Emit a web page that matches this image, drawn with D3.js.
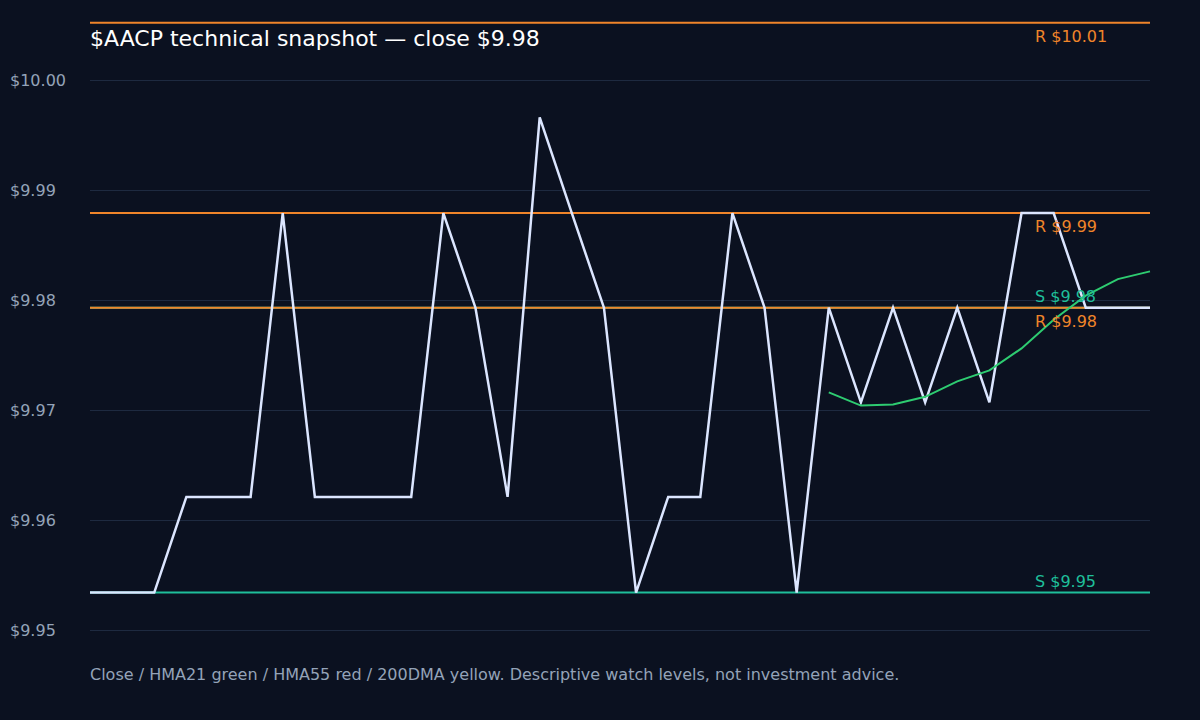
<!DOCTYPE html>
<html>
<head>
<meta charset="utf-8">
<script src="https://cdn.jsdelivr.net/npm/d3@7"></script>
<style>
  html, body { margin: 0; padding: 0; background: #0b1120; }
  svg { display: block; font-family: "DejaVu Sans", sans-serif; }
</style>
</head>
<body>
<svg id="chart"></svg>
<script>
// close prices, one per session
var closes = [
    9.9534, 9.9534, 9.9534, 9.9621, 9.9621, 9.9621, 9.9879, 9.9621, 9.9621, 9.9621,
    9.9621, 9.9879, 9.9793, 9.9621, 9.9966, 9.9879, 9.9793, 9.9534, 9.9621, 9.9621,
    9.9879, 9.9793, 9.9534, 9.9793, 9.9707, 9.9793, 9.9707, 9.9793, 9.9707, 9.9879,
    9.9879, 9.9793, 9.9793, 9.9793
];
// HMA21, null where not enough history
var hma21 = [
    null, null, null, null, null, null, null, null, null, null,
    null, null, null, null, null, null, null, null, null, null,
    null, null, null, 9.9716, 9.9704, 9.9705, 9.9712, 9.9726, 9.9736, 9.9756,
    9.9782, 9.9804, 9.9819, 9.9826
];
var yTicks = [9.95, 9.96, 9.97, 9.98, 9.99, 10.00];
// watch levels
var resistances = [10.0052, 9.9879, 9.9793];
var supports = [9.9534, 9.9793];

var w = 1200;
var h = 720;
var mLeft = 90, mRight = 1150, mTop = 80, mBottom = 630;

var svg = d3.select("#chart")
            .attr("width", w)
            .attr("height", h);

svg.append("rect")
    .attr("width", w)
    .attr("height", h)
    .attr("fill", "#0b1120");

var xScale = d3.scaleLinear()
                .domain([0, closes.length - 1])
                .range([mLeft, mRight]);

var yScale = d3.scaleLinear()
                .domain([9.95, 10.00])
                .range([mBottom, mTop]);

//grid lines + tick labels
var yAxis = d3.axisLeft(yScale)
                .tickValues(yTicks)
                .tickSize(-(mRight - mLeft))
                .tickFormat(function(d) { return "$" + d.toFixed(2); });

var axisG = svg.append("g")
    .attr("transform", "translate(" + mLeft + ",0)")
    .call(yAxis);
axisG.select(".domain").remove();
axisG.selectAll(".tick line")
    .attr("stroke", "#1e2a40")
    .attr("stroke-width", 1);
axisG.selectAll(".tick text")
    .attr("x", 10 - mLeft)
    .attr("text-anchor", "start")
    .attr("fill", "#94a3b8")
    .style("font-size", "16px")
    .style("font-family", "DejaVu Sans, sans-serif");

//support lines under everything else
svg.selectAll("line.sup")
    .data(supports)
    .enter()
    .append("line")
    .attr("class", "sup")
    .attr("x1", mLeft)
    .attr("x2", mRight)
    .attr("y1", function(d) { return yScale(d); })
    .attr("y2", function(d) { return yScale(d); })
    .attr("stroke", "#1fbf9a")
    .attr("stroke-width", 2);

svg.selectAll("line.res")
    .data(resistances)
    .enter()
    .append("line")
    .attr("class", "res")
    .attr("x1", mLeft)
    .attr("x2", mRight)
    .attr("y1", function(d) { return yScale(d); })
    .attr("y2", function(d) { return yScale(d); })
    .attr("stroke", "#f0852a")
    .attr("stroke-width", 2);

var line = d3.line()
    .defined(function(d) { return d != null; })
    .x(function(d, i) { return xScale(i); })
    .y(function(d) { return yScale(d); });

svg.append("path")
    .datum(closes)
    .attr("d", line)
    .attr("fill", "none")
    .attr("stroke", "#dce6ff")
    .attr("stroke-width", 2.5)
    .attr("stroke-linejoin", "miter");

svg.append("path")
    .datum(hma21)
    .attr("d", line)
    .attr("fill", "none")
    .attr("stroke", "#2ecc71")
    .attr("stroke-width", 2);

//level labels: supports above the line, resistances below
svg.selectAll("text.sup")
    .data(supports)
    .enter()
    .append("text")
    .attr("class", "sup")
    .attr("x", 1035)
    .attr("y", function(d) { return yScale(d) - 6; })
    .attr("fill", "#1fbf9a")
    .style("font-size", "16px")
    .text(function(d) { return "S $" + d.toFixed(2); });

svg.selectAll("text.res")
    .data(resistances)
    .enter()
    .append("text")
    .attr("class", "res")
    .attr("x", 1035)
    .attr("y", function(d) { return yScale(d) + 19; })
    .attr("fill", "#f0852a")
    .style("font-size", "16px")
    .text(function(d) { return "R $" + d.toFixed(2); });

svg.append("text")
    .attr("x", mLeft)
    .attr("y", 46)
    .attr("fill", "#ffffff")
    .style("font-size", "22px")
    .text("$AACP technical snapshot \u2014 close $" + closes[closes.length - 1].toFixed(2));

svg.append("text")
    .attr("x", mLeft)
    .attr("y", 680)
    .attr("fill", "#94a3b8")
    .style("font-size", "16px")
    .text("Close / HMA21 green / HMA55 red / 200DMA yellow. Descriptive watch levels, not investment advice.");
</script>
</body>
</html>
